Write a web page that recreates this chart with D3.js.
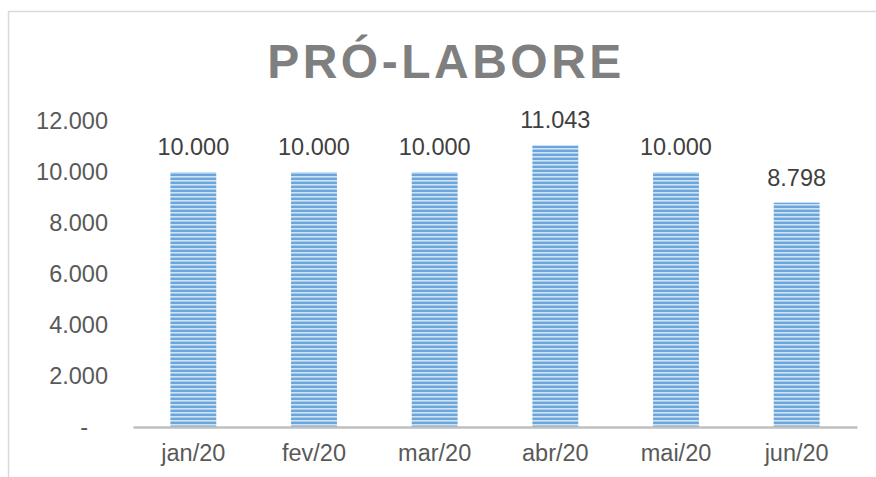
<!DOCTYPE html>
<html>
<head>
<meta charset="utf-8">
<script src="https://cdn.jsdelivr.net/npm/d3@7"></script>
<style>
    body { margin: 0; background: #fff; }
    text { font-family: "Liberation Sans", Arial, sans-serif; }
</style>
</head>
<body>
<div id="chart"></div>
<script>
    // data
    const months = ['jan/20', 'fev/20', 'mar/20', 'abr/20', 'mai/20', 'jun/20'];
    const values = [10000, 10000, 10000, 11043, 10000, 8798];
    const yTicks = [0, 2000, 4000, 6000, 8000, 10000, 12000];
    const title = 'PRÓ-LABORE';

    const width = 876, height = 477;
    const margin = {top: 121, right: 19, bottom: 50, left: 133};

    const fmt = (v) => v === 0 ? '-' : d3.format(',.0f')(v).replace(/,/g, '.');

    const svg = d3.select('#chart')
        .append('svg')
        .attr('width', width)
        .attr('height', height);

    // chart border (only top and left show in the crop)
    svg.append('path')
        .attr('d', `M8.5,${height} V11.5 H${width}`)
        .attr('fill', 'none')
        .attr('stroke', '#d9d9d9')
        .attr('stroke-width', 1.5);

    // striped fill like the excel pattern
    const pat = svg.append('defs').append('pattern')
        .attr('id', 'stripes')
        .attr('patternUnits', 'userSpaceOnUse')
        .attr('width', 8)
        .attr('height', 4);
    pat.append('rect').attr('width', 8).attr('height', 4).attr('fill', '#6aa5dc');
    pat.append('rect').attr('y', 0).attr('width', 8).attr('height', 1.6).attr('fill', '#cfe3f5');

    const x = d3.scaleBand()
        .domain(months)
        .range([margin.left, width - margin.right])
        .paddingInner(0.62)
        .paddingOuter(0.31);

    const y = d3.scaleLinear()
        .domain([0, 12000])
        .range([height - margin.bottom, margin.top]);

    // title
    svg.append('text')
        .attr('x', 446)
        .attr('y', 78)
        .attr('text-anchor', 'middle')
        .attr('font-size', 48)
        .attr('font-weight', 'bold')
        .attr('letter-spacing', 3.5)
        .attr('fill', '#7f7f7f')
        .text(title);

    // y axis labels
    const yAxis = svg.append('g')
        .attr('transform', `translate(${margin.left - 25},0)`)
        .call(d3.axisLeft(y).tickValues(yTicks).tickFormat(fmt).tickSize(0).tickPadding(0));
    yAxis.select('.domain').remove();
    yAxis.selectAll('text')
        .attr('font-size', 23.5)
        .attr('fill', '#595959')
        .attr('font-family', '"Liberation Sans", Arial, sans-serif')
        .filter((d) => d === 0)
        .attr('dx', -20);

    // bars
    svg.selectAll('.bar')
        .data(values)
        .enter()
        .append('rect')
        .attr('class', 'bar')
        .attr('x', (d, i) => x(months[i]))
        .attr('y', (d) => y(d))
        .attr('width', x.bandwidth())
        .attr('height', (d) => y(0) - y(d))
        .attr('fill', 'url(#stripes)');

    // value labels
    svg.selectAll('.value-label')
        .data(values)
        .enter()
        .append('text')
        .attr('class', 'value-label')
        .attr('x', (d, i) => x(months[i]) + x.bandwidth() / 2)
        .attr('y', (d) => y(d) - 17)
        .attr('text-anchor', 'middle')
        .attr('font-size', 23.5)
        .attr('fill', '#404040')
        .text(fmt);

    // x axis
    const xAxis = svg.append('g')
        .attr('transform', `translate(0,${y(0)})`)
        .call(d3.axisBottom(x).tickSize(0).tickPadding(17));
    xAxis.select('.domain')
        .attr('stroke', '#bfbfbf')
        .attr('stroke-width', 2.5);
    xAxis.selectAll('text')
        .attr('font-size', 23.5)
        .attr('fill', '#595959')
        .attr('font-family', '"Liberation Sans", Arial, sans-serif');
</script>
</body>
</html>
